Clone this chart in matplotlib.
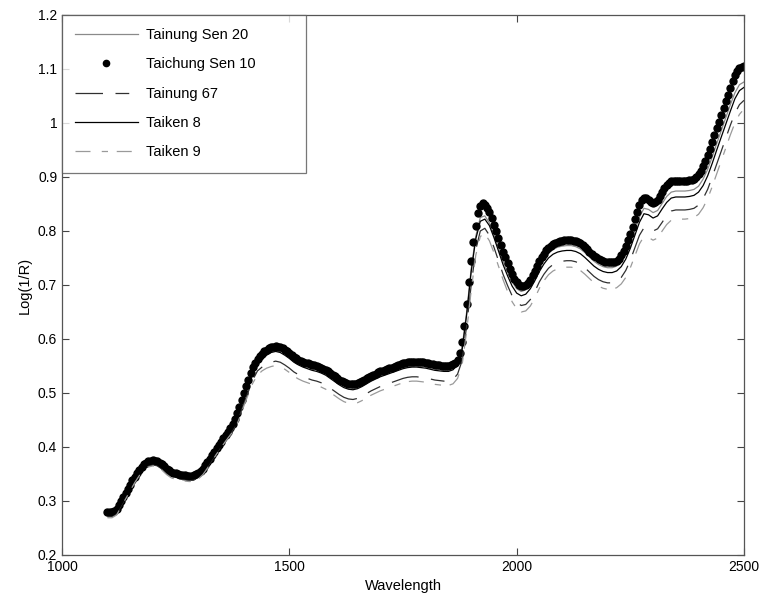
import numpy as np
import matplotlib
matplotlib.use("Agg")
import matplotlib.pyplot as plt

plt.rcParams['font.family'] = ['Liberation Sans', 'DejaVu Sans']

# ---- data -------------------------------------------------------------
wl = list(range(1100, 2501, 10))          # grid of the four line series
wl_dots = list(range(1100, 2501, 5))      # grid of the dotted series

taichung_sen10 = [
    # 1100-1195
    0.280, 0.279, 0.280, 0.282, 0.286, 0.292, 0.300, 0.307, 0.315, 0.322,
    0.330, 0.338, 0.345, 0.352, 0.358, 0.363, 0.368, 0.371, 0.374, 0.375,
    # 1200-1295
    0.376, 0.375, 0.374, 0.371, 0.368, 0.364, 0.360, 0.357, 0.354, 0.352,
    0.351, 0.350, 0.349, 0.348, 0.348, 0.347, 0.347, 0.347, 0.348, 0.350,
    # 1300-1395
    0.352, 0.356, 0.360, 0.366, 0.372, 0.378, 0.385, 0.391, 0.398, 0.404,
    0.410, 0.416, 0.422, 0.428, 0.435, 0.443, 0.452, 0.463, 0.475, 0.487,
    # 1400-1495
    0.500, 0.513, 0.525, 0.537, 0.548, 0.556, 0.563, 0.568, 0.573, 0.577,
    0.580, 0.583, 0.585, 0.586, 0.587, 0.586, 0.585, 0.583, 0.580, 0.577,
    # 1500-1595
    0.574, 0.570, 0.567, 0.564, 0.562, 0.560, 0.558, 0.556, 0.555, 0.553,
    0.552, 0.551, 0.550, 0.549, 0.547, 0.545, 0.543, 0.540, 0.537, 0.534,
    # 1600-1695
    0.531, 0.528, 0.525, 0.522, 0.520, 0.518, 0.517, 0.516, 0.516, 0.517,
    0.518, 0.520, 0.522, 0.524, 0.527, 0.530, 0.532, 0.534, 0.536, 0.538,
    # 1700-1795
    0.540, 0.541, 0.543, 0.544, 0.546, 0.547, 0.549, 0.550, 0.552, 0.553,
    0.555, 0.556, 0.557, 0.558, 0.558, 0.558, 0.558, 0.558, 0.557, 0.557,
    # 1800-1895
    0.556, 0.555, 0.554, 0.553, 0.552, 0.551, 0.551, 0.550, 0.550, 0.550,
    0.550, 0.551, 0.553, 0.556, 0.562, 0.575, 0.595, 0.625, 0.665, 0.705,
    # 1900-1995
    0.745, 0.780, 0.810, 0.833, 0.847, 0.852, 0.849, 0.843, 0.835, 0.824,
    0.812, 0.800, 0.787, 0.774, 0.762, 0.751, 0.740, 0.730, 0.720, 0.712,
    # 2000-2095
    0.705, 0.700, 0.698, 0.698, 0.700, 0.704, 0.710, 0.718, 0.726, 0.735,
    0.744, 0.751, 0.758, 0.764, 0.769, 0.773, 0.776, 0.778, 0.780, 0.781,
    # 2100-2195
    0.782, 0.783, 0.783, 0.783, 0.783, 0.782, 0.781, 0.779, 0.777, 0.774,
    0.770, 0.766, 0.762, 0.758, 0.754, 0.751, 0.748, 0.746, 0.744, 0.743,
    # 2200-2295
    0.742, 0.742, 0.742, 0.743, 0.745, 0.749, 0.755, 0.763, 0.772, 0.783,
    0.795, 0.808, 0.822, 0.836, 0.848, 0.858, 0.862, 0.861, 0.858, 0.854,
    # 2300-2395
    0.852, 0.854, 0.858, 0.865, 0.872, 0.879, 0.885, 0.889, 0.892, 0.893,
    0.893, 0.893, 0.893, 0.893, 0.893, 0.893, 0.894, 0.895, 0.897, 0.900,
    # 2400-2495
    0.905, 0.912, 0.920, 0.930, 0.940, 0.952, 0.965, 0.977, 0.990, 1.002,
    1.015, 1.027, 1.040, 1.052, 1.065, 1.077, 1.088, 1.096, 1.102, 1.104,
    # 2500
    1.105,
]

tainung_sen20 = [
    0.276, 0.276, 0.281, 0.296, 0.311, 0.326, 0.341, 0.354, 0.364, 0.370,
    0.372, 0.370, 0.364, 0.356, 0.350, 0.347, 0.345, 0.344, 0.343, 0.344,
    0.348, 0.356, 0.368, 0.381, 0.394, 0.406, 0.418, 0.430, 0.446, 0.469,
    0.494, 0.519, 0.542, 0.557, 0.567, 0.574, 0.579, 0.581, 0.579, 0.574,
    0.568, 0.561, 0.556, 0.552, 0.549, 0.546, 0.544, 0.541, 0.537, 0.531,
    0.525, 0.519, 0.514, 0.511, 0.510, 0.512, 0.516, 0.521, 0.526, 0.530,
    0.534, 0.537, 0.540, 0.543, 0.546, 0.549, 0.551, 0.552, 0.552, 0.551,
    0.550, 0.548, 0.546, 0.545, 0.544, 0.544, 0.547, 0.555, 0.585, 0.650,
    0.730, 0.790, 0.825, 0.828, 0.815, 0.793, 0.769, 0.745, 0.724, 0.706,
    0.693, 0.688, 0.691, 0.701, 0.716, 0.734, 0.748, 0.759, 0.766, 0.770,
    0.772, 0.773, 0.773, 0.771, 0.767, 0.760, 0.752, 0.744, 0.738, 0.734,
    0.732, 0.732, 0.735, 0.743, 0.757, 0.777, 0.801, 0.826, 0.842, 0.840,
    0.834, 0.838, 0.851, 0.864, 0.872, 0.874, 0.874, 0.874, 0.875, 0.877,
    0.883, 0.896, 0.914, 0.937, 0.962, 0.986, 1.010, 1.034, 1.056, 1.071,
    1.076,
]

taiken8 = [
    0.273, 0.273, 0.278, 0.293, 0.308, 0.323, 0.338, 0.351, 0.361, 0.367,
    0.369, 0.367, 0.361, 0.353, 0.347, 0.344, 0.342, 0.341, 0.340, 0.341,
    0.345, 0.353, 0.365, 0.378, 0.391, 0.403, 0.415, 0.427, 0.442, 0.465,
    0.490, 0.515, 0.538, 0.553, 0.563, 0.570, 0.575, 0.577, 0.575, 0.570,
    0.564, 0.557, 0.552, 0.548, 0.545, 0.542, 0.540, 0.537, 0.533, 0.527,
    0.521, 0.515, 0.510, 0.507, 0.506, 0.508, 0.512, 0.517, 0.522, 0.526,
    0.530, 0.533, 0.536, 0.539, 0.542, 0.545, 0.547, 0.548, 0.548, 0.547,
    0.546, 0.544, 0.542, 0.541, 0.540, 0.540, 0.543, 0.552, 0.580, 0.645,
    0.725, 0.785, 0.818, 0.822, 0.810, 0.788, 0.763, 0.738, 0.717, 0.698,
    0.685, 0.680, 0.683, 0.693, 0.708, 0.725, 0.739, 0.750, 0.757, 0.761,
    0.763, 0.764, 0.764, 0.762, 0.758, 0.751, 0.743, 0.735, 0.729, 0.725,
    0.723, 0.723, 0.726, 0.734, 0.748, 0.768, 0.792, 0.816, 0.832, 0.830,
    0.824, 0.828, 0.841, 0.853, 0.861, 0.863, 0.863, 0.863, 0.864, 0.866,
    0.872, 0.884, 0.902, 0.925, 0.950, 0.974, 0.998, 1.022, 1.045, 1.060,
    1.066,
]

tainung67 = [
    0.271, 0.271, 0.276, 0.291, 0.306, 0.321, 0.336, 0.349, 0.359, 0.365,
    0.367, 0.365, 0.359, 0.351, 0.345, 0.342, 0.340, 0.339, 0.338, 0.339,
    0.343, 0.351, 0.363, 0.376, 0.389, 0.401, 0.413, 0.424, 0.436, 0.457,
    0.480, 0.503, 0.525, 0.541, 0.548, 0.554, 0.557, 0.559, 0.557, 0.552,
    0.546, 0.539, 0.534, 0.530, 0.527, 0.524, 0.522, 0.519, 0.515, 0.509,
    0.503, 0.497, 0.492, 0.489, 0.488, 0.490, 0.494, 0.499, 0.504, 0.508,
    0.512, 0.515, 0.518, 0.521, 0.524, 0.527, 0.529, 0.530, 0.530, 0.529,
    0.528, 0.526, 0.524, 0.523, 0.522, 0.522, 0.525, 0.535, 0.560, 0.625,
    0.700, 0.765, 0.800, 0.805, 0.792, 0.770, 0.745, 0.720, 0.699, 0.680,
    0.668, 0.662, 0.664, 0.673, 0.688, 0.706, 0.720, 0.731, 0.738, 0.742,
    0.744, 0.745, 0.745, 0.743, 0.739, 0.732, 0.724, 0.716, 0.710, 0.706,
    0.704, 0.704, 0.707, 0.714, 0.727, 0.746, 0.769, 0.792, 0.806, 0.805,
    0.800, 0.804, 0.816, 0.829, 0.837, 0.839, 0.839, 0.839, 0.840, 0.842,
    0.848, 0.860, 0.877, 0.900, 0.924, 0.948, 0.972, 0.996, 1.018, 1.034,
    1.042,
]

taiken9 = [
    0.269, 0.269, 0.274, 0.289, 0.304, 0.319, 0.334, 0.347, 0.357, 0.363,
    0.365, 0.363, 0.357, 0.349, 0.343, 0.340, 0.338, 0.337, 0.336, 0.337,
    0.341, 0.349, 0.361, 0.374, 0.387, 0.399, 0.411, 0.422, 0.432, 0.453,
    0.476, 0.498, 0.519, 0.533, 0.541, 0.546, 0.549, 0.551, 0.549, 0.544,
    0.538, 0.531, 0.526, 0.522, 0.519, 0.516, 0.514, 0.511, 0.507, 0.501,
    0.495, 0.489, 0.484, 0.481, 0.480, 0.482, 0.486, 0.491, 0.496, 0.500,
    0.504, 0.507, 0.510, 0.513, 0.516, 0.519, 0.521, 0.522, 0.522, 0.521,
    0.520, 0.518, 0.516, 0.515, 0.514, 0.514, 0.517, 0.527, 0.552, 0.615,
    0.690, 0.755, 0.790, 0.795, 0.782, 0.760, 0.735, 0.710, 0.688, 0.669,
    0.656, 0.650, 0.652, 0.661, 0.676, 0.694, 0.708, 0.719, 0.726, 0.730,
    0.732, 0.733, 0.733, 0.731, 0.727, 0.720, 0.712, 0.704, 0.698, 0.694,
    0.692, 0.692, 0.695, 0.702, 0.714, 0.732, 0.754, 0.776, 0.790, 0.788,
    0.783, 0.787, 0.800, 0.812, 0.820, 0.822, 0.822, 0.822, 0.823, 0.825,
    0.831, 0.843, 0.860, 0.882, 0.906, 0.930, 0.954, 0.978, 1.000, 1.016,
    1.026,
]

x_ticks = [1000, 1500, 2000, 2500]
y_ticks = [0.2, 0.3, 0.4, 0.5, 0.6, 0.7, 0.8, 0.9, 1.0, 1.1, 1.2]
y_ticklabels = ['0.2', '0.3', '0.4', '0.5', '0.6', '0.7', '0.8', '0.9', '1', '1.1', '1.2']

# ---- figure -------------------------------------------------------------
fig = plt.figure(figsize=(7.6, 5.95), dpi=100)
ax = fig.add_axes([62 / 760, (595 - 555) / 595, (744 - 62) / 760, (555 - 15) / 595])

ax.plot(wl, tainung_sen20, color='#8a8a8a', lw=0.9, label='Tainung Sen 20')
ax.plot(wl_dots, taichung_sen10, linestyle='none', marker='o', ms=5.0,
        color='black', label='Taichung Sen 10')
ax.plot(wl, tainung67, color='#303030', lw=0.9, dashes=(22, 10, 11, 10), label='Tainung 67')
ax.plot(wl, taiken8, color='black', lw=0.9, label='Taiken 8')
ax.plot(wl, taiken9, color='#9a9a9a', lw=0.9, dashes=(12, 9, 5, 7), label='Taiken 9')

ax.set_xlim(1000, 2500)
ax.set_ylim(0.2, 1.2)
ax.set_xticks(x_ticks)
ax.set_yticks(y_ticks)
ax.set_yticklabels(y_ticklabels)
ax.tick_params(direction='in', top=True, right=True, length=5, width=0.8,
               colors='#444444', labelcolor='black', labelsize=10)
for s in ax.spines.values():
    s.set_color('#555555')
    s.set_linewidth(0.9)

ax.set_xlabel('Wavelength', fontsize=10.5, labelpad=4)
ax.set_ylabel('Log(1/R)', fontsize=10.5)

leg = ax.legend(loc='upper left', bbox_to_anchor=(0, 1, (306 - 62) / 682, 0), mode='expand',
                fontsize=10.5, handlelength=4.3, handletextpad=0.55, labelspacing=1.05,
                borderpad=0.9, borderaxespad=0, fancybox=False, frameon=True,
                markerscale=0.9)
leg.get_frame().set_edgecolor('#555555')
leg.get_frame().set_linewidth(0.9)

fig.savefig('out.png', dpi=100)
